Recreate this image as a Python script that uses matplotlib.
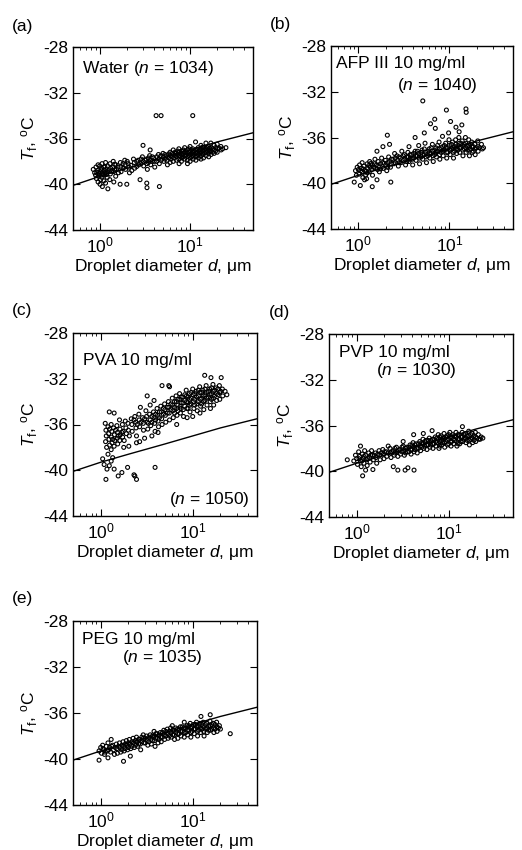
import numpy as np
import matplotlib
matplotlib.use("Agg")
import matplotlib.pyplot as plt

plt.rcParams['font.family'] = ['Liberation Sans', 'DejaVu Sans']
plt.rcParams['mathtext.fontset'] = 'custom'
plt.rcParams['mathtext.rm'] = 'Liberation Sans'
plt.rcParams['mathtext.it'] = 'Liberation Sans:italic'
plt.rcParams['axes.unicode_minus'] = False
plt.rcParams['font.size'] = 12.5

# fitted curve (same in every panel)
line_d = [0.5, 1, 2, 5, 10, 20, 50]
line_T = [-40.1, -39.3, -38.6, -37.7, -37.0, -36.3, -35.5]

yticks = [-28, -32, -36, -40, -44]

# droplet diameter (um), freezing temperature (C) -- sampled by eye from each cloud
water = [
    (0.84, -38.7), (0.87, -39.0), (0.90, -38.5), (0.89, -39.2), (0.91, -39.5),
    (0.95, -38.3), (0.94, -38.8), (0.96, -39.3), (0.95, -39.8),
    (0.99, -38.4), (1.00, -38.9), (0.98, -39.1), (1.01, -39.6), (1.00, -40.0),
    (1.05, -38.2), (1.04, -38.6), (1.06, -39.0), (1.05, -39.4), (1.06, -40.2),
    (1.10, -38.5), (1.11, -38.8), (1.09, -39.2), (1.10, -39.7),
    (1.15, -38.1), (1.16, -38.7), (1.14, -39.0), (1.15, -39.9),
    (1.21, -38.4), (1.19, -38.9), (1.20, -39.4), (1.22, -40.4),
    (1.29, -38.2), (1.31, -38.6), (1.30, -39.1), (1.28, -39.6),
    (1.40, -38.0), (1.38, -38.5), (1.41, -38.9), (1.42, -39.8),
    (1.50, -38.3), (1.52, -38.7), (1.49, -39.3),
    (1.68, -38.1), (1.70, -38.5), (1.71, -38.9), (1.67, -40.0),
    (1.88, -37.9), (1.90, -38.3), (1.92, -38.7),
    (2.05, -38.2), (2.10, -38.5), (2.12, -39.0), (1.98, -40.0),
    (2.35, -37.8), (2.40, -38.1), (2.42, -38.6),
    (2.65, -37.9), (2.70, -38.3), (2.78, -39.6),
    (2.95, -37.6), (3.00, -38.0), (3.05, -38.4), (3.00, -36.6),
    (3.25, -37.8), (3.30, -38.2), (3.35, -38.7), (3.30, -39.9), (3.32, -40.3),
    (3.55, -37.5), (3.60, -37.9), (3.65, -38.3), (3.60, -37.0),
    (3.95, -37.7), (4.00, -38.0), (4.05, -38.5), (4.19, -34.0),
    (4.45, -37.4), (4.50, -37.8), (4.55, -38.2), (4.56, -40.2), (4.76, -34.0),
    (5.00, -37.3), (5.05, -37.6), (5.10, -38.0),
    (5.50, -37.5), (5.55, -37.9), (5.60, -38.3),
    (6.00, -37.2), (6.05, -37.5), (6.10, -37.8), (6.00, -38.1),
    (6.50, -37.0), (6.55, -37.4), (6.60, -37.7), (6.50, -38.0),
    (7.00, -37.3), (7.05, -37.6), (7.10, -37.9),
    (7.50, -36.9), (7.55, -37.2), (7.60, -37.5), (7.50, -37.8), (7.55, -38.2),
    (8.00, -37.1), (8.05, -37.4), (8.10, -37.7), (8.00, -38.0),
    (8.70, -36.8), (8.75, -37.2), (8.80, -37.5), (8.70, -37.8),
    (9.30, -37.0), (9.35, -37.3), (9.40, -37.6), (9.30, -37.9), (9.35, -38.2),
    (10.0, -36.7), (10.1, -37.1), (10.0, -37.4), (10.1, -37.7), (10.0, -38.0),
    (10.7, -34.0), (10.7, -36.9), (10.8, -37.2), (10.7, -37.5), (10.8, -37.8),
    (11.5, -36.3), (11.5, -37.0), (11.6, -37.3), (11.5, -37.6), (11.6, -37.9),
    (12.3, -36.8), (12.4, -37.1), (12.3, -37.4), (12.4, -37.7),
    (13.2, -36.6), (13.3, -36.9), (13.2, -37.2), (13.3, -37.5), (13.2, -37.8),
    (14.0, -36.8), (14.1, -37.1), (14.0, -37.4), (14.1, -37.7),
    (15.0, -36.4), (15.1, -36.9), (15.0, -37.2), (15.1, -37.5),
    (16.0, -36.7), (16.1, -37.0), (16.0, -37.3), (16.1, -37.6),
    (17.0, -36.4), (17.1, -36.8), (17.0, -37.1), (17.1, -37.4),
    (18.5, -36.6), (18.6, -37.0), (18.5, -37.3),
    (20.0, -36.5), (20.1, -36.9), (20.0, -37.2),
    (22.0, -36.7), (22.1, -37.0), (25.0, -36.8),
]
water_core = [
    (0.92, -38.95), (0.97, -39.05), (1.03, -38.75), (1.08, -39.15), (1.13, -38.45),
    (1.18, -39.15), (1.25, -38.75), (1.34, -38.85), (1.45, -38.25), (1.45, -38.75),
    (1.58, -38.5), (1.60, -39.0), (1.80, -38.2), (1.80, -38.6), (2.00, -38.0),
    (2.20, -38.35), (2.25, -38.8), (2.55, -38.0), (2.55, -38.45), (2.85, -37.8),
    (2.85, -38.2), (3.15, -37.9), (3.45, -37.7), (3.45, -38.1), (3.80, -37.6),
    (3.80, -38.0), (4.25, -37.6), (4.25, -38.0), (4.75, -37.5), (4.75, -37.9),
    (5.25, -37.4), (5.25, -37.8), (5.80, -37.35), (5.80, -37.7), (6.30, -37.3),
    (6.30, -37.6), (6.80, -37.2), (6.80, -37.5), (7.30, -37.1), (7.30, -37.4),
    (7.80, -37.3), (7.80, -37.6), (8.40, -37.0), (8.40, -37.3), (8.40, -37.6),
    (9.00, -37.15), (9.00, -37.45), (9.70, -36.9), (9.70, -37.2), (9.70, -37.5),
    (10.4, -37.0), (10.4, -37.3), (10.4, -37.6), (11.1, -37.1), (11.1, -37.4),
    (11.9, -36.95), (11.9, -37.25), (11.9, -37.55), (12.8, -37.0), (12.8, -37.3),
    (13.7, -36.75), (13.7, -37.05), (13.7, -37.35), (14.5, -36.95), (14.5, -37.25),
    (15.5, -36.8), (15.5, -37.1), (16.5, -36.85), (16.5, -37.15), (17.8, -36.9),
    (17.8, -37.2), (19.2, -36.8), (19.2, -37.1), (21.0, -36.85), (23.0, -36.9),
]

afp = [
    (0.90, -39.9), (0.93, -38.9), (0.95, -39.3), (0.97, -38.6),
    (1.00, -38.8), (1.02, -39.2), (1.05, -40.2), (1.03, -38.4),
    (1.08, -38.7), (1.10, -39.0), (1.12, -39.5), (1.10, -38.2),
    (1.15, -38.5), (1.18, -38.9), (1.20, -39.3), (1.17, -39.7),
    (1.25, -38.3), (1.27, -38.7), (1.25, -39.1), (1.23, -39.6),
    (1.33, -38.1), (1.35, -38.6), (1.32, -39.0),
    (1.42, -38.4), (1.40, -38.8), (1.43, -39.3), (1.42, -40.3),
    (1.52, -37.9), (1.50, -38.3), (1.55, -38.7), (1.60, -39.7), (1.60, -37.2),
    (1.65, -38.1), (1.68, -38.5), (1.70, -39.0),
    (1.80, -37.8), (1.85, -38.2), (1.86, -36.8), (1.88, -38.7),
    (1.98, -38.0), (2.00, -38.4), (2.05, -38.9), (2.08, -35.8),
    (2.15, -37.7), (2.20, -38.1), (2.20, -36.6), (2.27, -39.9), (2.25, -38.6),
    (2.40, -37.9), (2.45, -38.3), (2.50, -37.4),
    (2.65, -37.6), (2.70, -38.0), (2.75, -38.5),
    (2.90, -37.8), (2.95, -38.2), (3.00, -37.2),
    (3.20, -37.5), (3.25, -37.9), (3.30, -38.4),
    (3.50, -37.3), (3.55, -37.7), (3.60, -38.1), (3.60, -36.8),
    (3.85, -37.5), (3.90, -37.9), (3.95, -38.4),
    (4.20, -36.0), (4.20, -37.2), (4.25, -37.6), (4.30, -38.0),
    (4.60, -37.4), (4.65, -37.8), (4.70, -38.3), (4.60, -36.7),
    (5.10, -32.8), (5.00, -37.1), (5.05, -37.5), (5.10, -37.9),
    (5.30, -35.6), (5.40, -36.5), (5.50, -37.3), (5.55, -37.7), (5.60, -38.2),
    (6.00, -37.0), (6.05, -37.4), (6.10, -37.8), (6.20, -34.8),
    (6.50, -36.6), (6.55, -37.2), (6.60, -37.6), (6.65, -38.1),
    (6.90, -34.4), (7.00, -35.2), (7.10, -36.9), (7.15, -37.3), (7.20, -37.7),
    (7.70, -36.4), (7.75, -37.0), (7.80, -37.5), (7.85, -37.9),
    (8.40, -35.9), (8.45, -36.8), (8.50, -37.2), (8.55, -37.6),
    (9.10, -36.5), (9.15, -36.9), (9.27, -33.6), (9.30, -37.3), (9.35, -37.8),
    (9.80, -35.6), (9.90, -36.2), (10.0, -36.7), (10.1, -37.1), (10.2, -37.5),
    (10.3, -34.6), (10.8, -36.4), (10.9, -36.9), (11.0, -37.3), (11.1, -37.8),
    (11.8, -35.1), (11.7, -36.2), (11.8, -36.6), (11.9, -37.0), (12.0, -37.4),
    (12.8, -35.5), (12.7, -36.0), (12.8, -36.5), (12.9, -36.9), (13.0, -37.3),
    (13.7, -34.9), (13.8, -36.3), (13.9, -36.7), (14.0, -37.1), (14.1, -37.6),
    (15.2, -33.5), (15.3, -33.8), (15.0, -36.0), (15.1, -36.5), (15.2, -36.9),
    (15.3, -37.3), (16.3, -36.2), (16.4, -36.7), (16.5, -37.1), (16.6, -37.6),
    (17.6, -36.4), (17.7, -36.8), (17.8, -37.3),
    (19.0, -36.6), (19.1, -37.0), (19.2, -37.5),
    (20.5, -36.3), (20.6, -36.8), (20.7, -37.2),
    (22.5, -36.6), (23.0, -37.0), (23.7, -36.9),
]
afp_core = [
    (1.06, -38.9), (1.13, -38.75), (1.22, -38.95), (1.30, -38.45), (1.38, -38.25),
    (1.47, -38.6), (1.58, -38.4), (1.62, -38.8), (1.75, -38.3), (1.75, -38.75),
    (1.92, -38.25), (2.10, -38.2), (2.10, -38.6), (2.30, -37.9), (2.30, -38.3),
    (2.55, -37.8), (2.55, -38.2), (2.80, -37.7), (2.80, -38.2), (3.10, -37.6),
    (3.10, -38.0), (3.40, -37.7), (3.40, -38.1), (3.70, -37.5), (3.70, -37.9),
    (4.05, -37.4), (4.05, -37.8), (4.45, -37.2), (4.45, -37.6), (4.90, -37.3),
    (4.90, -37.7), (5.30, -37.0), (5.30, -37.5), (5.80, -37.2), (5.80, -37.6),
    (6.30, -36.9), (6.30, -37.4), (6.90, -37.1), (6.90, -37.5), (7.40, -36.7),
    (7.40, -37.2), (8.10, -36.9), (8.10, -37.3), (8.80, -36.7), (8.80, -37.1),
    (9.60, -36.9), (9.60, -37.3), (10.5, -36.6), (10.5, -37.0), (11.4, -36.8),
    (11.4, -37.2), (12.4, -36.7), (12.4, -37.1), (13.4, -36.5), (13.4, -36.9),
    (14.6, -36.6), (14.6, -37.0), (15.8, -36.7), (15.8, -37.1), (17.0, -36.6),
    (17.0, -37.0), (18.3, -36.8), (18.3, -37.2), (19.8, -36.9), (21.5, -36.9),
]

pva = [
    (1.12, -35.9), (1.14, -36.5), (1.15, -37.0), (1.13, -37.5), (1.16, -38.0),
    (1.20, -36.2), (1.22, -36.8), (1.24, -34.9), (1.23, -37.3), (1.25, -37.8),
    (1.30, -36.0), (1.32, -36.6), (1.31, -37.1), (1.33, -37.6), (1.30, -38.2),
    (1.40, -35.0), (1.38, -36.3), (1.41, -36.9), (1.42, -37.4), (1.40, -37.9),
    (1.50, -36.1), (1.52, -36.7), (1.51, -37.2), (1.53, -37.7),
    (1.60, -35.6), (1.62, -36.4), (1.63, -36.9), (1.61, -37.4),
    (1.72, -36.0), (1.75, -36.6), (1.73, -37.1), (1.78, -38.0),
    (1.85, -35.7), (1.88, -36.3), (1.90, -36.8),
    (1.98, -35.9), (2.00, -36.5), (2.05, -37.0), (2.02, -37.9),
    (2.15, -35.5), (2.18, -36.0), (2.20, -36.6),
    (2.35, -35.3), (2.40, -35.8), (2.42, -36.3), (2.45, -37.0), (2.45, -37.6),
    (2.60, -35.1), (2.62, -35.6), (2.65, -36.2), (2.70, -34.5), (2.65, -37.5),
    (2.85, -35.4), (2.90, -35.9), (2.92, -36.5), (3.00, -37.2),
    (3.10, -34.8), (3.15, -35.3), (3.20, -35.8), (3.20, -33.5), (3.25, -36.4),
    (3.40, -35.1), (3.45, -35.6), (3.50, -36.1), (3.45, -34.3), (3.60, -37.0),
    (3.75, -34.9), (3.80, -35.4), (3.80, -33.9), (3.85, -35.9), (3.90, -36.6),
    (4.10, -34.6), (4.15, -35.2), (4.20, -35.7), (4.25, -36.2), (4.20, -36.7),
    (4.50, -34.4), (4.55, -34.9), (4.64, -32.6), (4.60, -35.5), (4.65, -36.0),
    (4.95, -34.2), (5.00, -34.7), (5.05, -35.2), (5.10, -35.8),
    (5.50, -32.6), (5.60, -32.7), (5.45, -34.0), (5.50, -34.5), (5.55, -35.0),
    (5.60, -35.6), (6.00, -33.7), (6.05, -34.3), (6.10, -34.8), (6.15, -35.4),
    (6.60, -33.5), (6.65, -34.0), (6.70, -34.6), (6.75, -35.2), (6.70, -36.0),
    (7.20, -33.3), (7.25, -33.8), (7.30, -34.4), (7.35, -35.0),
    (7.80, -33.6), (7.85, -34.1), (7.90, -34.7), (7.95, -35.3),
    (8.50, -33.0), (8.55, -33.5), (8.60, -34.0), (8.65, -34.6), (8.70, -35.4),
    (9.20, -33.3), (9.25, -33.8), (9.30, -34.3), (9.35, -34.9),
    (10.0, -32.9), (10.1, -33.4), (10.2, -34.0), (10.3, -34.6), (10.0, -35.3),
    (10.9, -33.1), (11.0, -33.6), (11.1, -34.2), (11.2, -34.8),
    (11.9, -32.7), (12.0, -33.2), (12.1, -33.8), (12.2, -34.4), (12.0, -35.0),
    (12.9, -33.0), (13.0, -33.5), (13.1, -34.0), (13.2, -34.7),
    (13.5, -31.7), (14.0, -32.6), (14.1, -33.2), (14.2, -33.7), (14.3, -34.3),
    (15.3, -32.9), (15.4, -33.4), (15.5, -34.0), (15.6, -34.6), (15.8, -31.9),
    (16.6, -32.5), (16.7, -33.1), (16.8, -33.7), (16.9, -34.3),
    (18.0, -32.8), (18.1, -33.3), (18.2, -33.9),
    (19.5, -32.6), (19.6, -33.2), (19.7, -33.8),
    (20.4, -31.9), (21.0, -32.9), (21.2, -33.5),
    (22.5, -33.1), (23.5, -33.4),
    (1.09, -39.5), (1.17, -39.9), (1.24, -39.6), (1.40, -39.9), (1.30, -39.2),
    (1.96, -39.75), (1.70, -40.2), (1.14, -40.8), (2.35, -40.5), (2.45, -40.8),
    (2.30, -40.4), (3.90, -39.75), (1.20, -38.6), (1.35, -38.9), (1.55, -40.5),
    (1.05, -39.0),
]
pva_core = [
    (2.30, -35.6), (2.50, -36.0), (2.75, -35.8), (3.00, -35.5), (3.30, -35.9),
    (3.60, -35.3), (3.60, -35.8), (3.95, -35.1), (3.95, -35.6), (4.35, -34.9),
    (4.35, -35.4), (4.80, -34.6), (4.80, -35.1), (5.30, -34.5), (5.30, -35.0),
    (5.80, -34.2), (5.80, -34.7), (6.35, -34.0), (6.35, -34.5), (6.35, -35.0),
    (6.90, -33.8), (6.90, -34.3), (6.90, -34.8), (7.50, -33.6), (7.50, -34.1),
    (7.50, -34.6), (8.20, -33.4), (8.20, -33.9), (8.20, -34.4), (8.90, -33.6),
    (8.90, -34.1), (8.90, -34.6), (9.60, -33.2), (9.60, -33.7), (9.60, -34.2),
    (10.5, -33.3), (10.5, -33.8), (10.5, -34.3), (11.5, -33.0), (11.5, -33.5),
    (11.5, -34.0), (12.5, -33.2), (12.5, -33.7), (12.5, -34.2), (13.6, -32.9),
    (13.6, -33.4), (13.6, -33.9), (14.8, -33.1), (14.8, -33.6), (16.0, -32.8),
    (16.0, -33.3), (16.0, -33.8), (17.3, -33.0), (17.3, -33.5), (18.8, -32.9),
    (18.8, -33.4), (20.2, -33.1), (1.45, -36.5), (1.25, -36.4), (1.35, -37.3),
    (1.55, -37.0), (1.70, -36.7), (1.80, -37.4),
]

pvp = [
    (0.79, -39.0), (0.93, -39.1), (0.97, -38.6), (1.00, -38.9), (1.02, -39.4),
    (1.05, -38.3), (1.08, -38.7), (1.10, -37.8), (1.10, -39.1), (1.12, -39.6),
    (1.15, -38.5), (1.16, -40.4), (1.18, -38.9), (1.20, -39.3), (1.22, -38.2),
    (1.25, -38.6), (1.25, -39.9), (1.28, -39.0), (1.30, -39.5),
    (1.35, -38.4), (1.38, -38.8), (1.40, -39.2),
    (1.45, -38.2), (1.48, -38.6), (1.50, -39.85), (1.52, -39.0),
    (1.60, -38.4), (1.62, -38.8), (1.65, -39.3),
    (1.75, -38.2), (1.78, -38.6), (1.80, -39.0),
    (1.92, -38.1), (1.95, -38.5), (1.98, -38.9),
    (2.10, -38.3), (2.12, -38.7), (2.20, -37.8),
    (2.30, -38.0), (2.33, -38.4), (2.36, -38.8),
    (2.50, -38.2), (2.50, -39.6), (2.55, -38.6),
    (2.70, -37.9), (2.75, -38.3), (2.80, -39.9), (2.80, -38.7),
    (2.95, -38.1), (3.00, -38.5),
    (3.20, -37.4), (3.20, -37.8), (3.25, -38.2), (3.30, -38.6), (3.36, -39.9),
    (3.50, -37.9), (3.55, -38.3), (3.60, -39.7),
    (3.80, -37.7), (3.85, -38.1), (3.90, -38.5),
    (4.10, -37.5), (4.15, -37.9), (4.16, -36.8), (4.20, -38.3), (4.20, -39.9),
    (4.45, -37.6), (4.50, -38.0), (4.55, -38.4),
    (4.85, -37.4), (4.90, -37.8), (4.95, -38.2),
    (5.30, -36.7), (5.25, -37.2), (5.30, -37.6), (5.35, -38.0),
    (5.70, -37.3), (5.75, -37.7), (5.80, -38.1),
    (6.15, -37.1), (6.20, -37.5), (6.25, -37.9),
    (6.60, -36.45), (6.65, -37.2), (6.70, -37.6), (6.75, -38.0),
    (7.15, -37.0), (7.20, -37.4), (7.25, -37.8),
    (7.70, -36.8), (7.75, -37.2), (7.80, -37.6), (7.85, -38.0),
    (8.30, -36.9), (8.35, -37.3), (8.40, -37.7),
    (8.90, -36.7), (8.95, -37.1), (9.00, -37.5), (9.05, -37.9),
    (9.60, -36.9), (9.65, -37.3), (9.70, -37.7),
    (10.3, -36.6), (10.4, -37.0), (10.5, -37.4), (10.6, -37.8),
    (11.1, -36.8), (11.2, -37.2), (11.3, -37.6),
    (12.0, -36.6), (12.1, -37.0), (12.2, -37.4), (12.3, -37.8),
    (13.0, -36.8), (13.1, -37.2), (13.2, -37.6),
    (14.1, -36.1), (14.0, -36.6), (14.1, -37.0), (14.2, -37.4),
    (15.2, -36.7), (15.3, -37.1), (15.4, -37.5),
    (16.5, -36.5), (16.6, -36.9), (16.7, -37.3), (16.8, -37.7),
    (18.0, -36.7), (18.1, -37.1), (18.2, -37.5),
    (19.5, -36.6), (19.6, -37.0), (19.7, -37.4),
    (21.0, -36.8), (21.2, -37.2), (22.5, -37.0), (23.5, -37.1),
]
pvp_core = [
    (1.06, -38.9), (1.14, -39.1), (1.20, -38.7), (1.32, -38.9), (1.42, -38.6),
    (1.55, -38.6), (1.70, -38.5), (1.85, -38.4), (2.00, -38.3), (2.20, -38.4),
    (2.40, -38.3), (2.60, -38.0), (2.60, -38.4), (2.85, -38.2), (3.10, -37.9),
    (3.10, -38.3), (3.40, -38.0), (3.40, -38.4), (3.70, -37.9), (3.70, -38.3),
    (4.00, -37.7), (4.00, -38.1), (4.30, -37.7), (4.30, -38.1), (4.70, -37.6),
    (4.70, -38.0), (5.10, -37.5), (5.10, -37.9), (5.50, -37.4), (5.50, -37.8),
    (5.95, -37.3), (5.95, -37.7), (6.40, -37.3), (6.40, -37.7), (6.90, -37.2),
    (6.90, -37.6), (7.45, -37.1), (7.45, -37.5), (8.00, -37.0), (8.00, -37.4),
    (8.00, -37.8), (8.60, -37.1), (8.60, -37.5), (9.30, -37.0), (9.30, -37.4),
    (10.0, -36.8), (10.0, -37.2), (10.0, -37.6), (10.8, -37.0), (10.8, -37.4),
    (11.6, -36.9), (11.6, -37.3), (12.6, -36.8), (12.6, -37.2), (12.6, -37.6),
    (13.6, -37.0), (13.6, -37.4), (14.7, -36.8), (14.7, -37.2), (15.9, -36.9),
    (15.9, -37.3), (17.3, -36.8), (17.3, -37.2), (18.8, -36.9), (18.8, -37.3),
    (20.3, -37.1), (22.0, -37.2),
]

peg = [
    (0.96, -39.3), (0.96, -40.1), (1.00, -39.0), (1.02, -39.5),
    (1.05, -38.8), (1.08, -39.2), (1.10, -39.6),
    (1.15, -38.9), (1.18, -39.3), (1.20, -39.9), (1.20, -38.6),
    (1.25, -39.0), (1.28, -39.4), (1.30, -38.3),
    (1.35, -38.8), (1.38, -39.2), (1.41, -39.6),
    (1.48, -38.7), (1.50, -39.1), (1.52, -39.5),
    (1.60, -38.6), (1.63, -39.0), (1.65, -39.4),
    (1.75, -38.5), (1.77, -40.2), (1.78, -38.9), (1.80, -39.3),
    (1.90, -38.4), (1.93, -38.8), (1.96, -39.2),
    (2.05, -38.3), (2.08, -38.7), (2.10, -39.75), (2.12, -39.1),
    (2.25, -38.2), (2.28, -38.6), (2.32, -39.0),
    (2.45, -38.1), (2.48, -38.5), (2.52, -38.9),
    (2.65, -38.3), (2.70, -38.7), (2.72, -39.2),
    (2.90, -37.9), (2.92, -38.2), (2.95, -38.6),
    (3.15, -38.0), (3.20, -38.4), (3.25, -38.8),
    (3.45, -37.9), (3.50, -38.3), (3.55, -38.7),
    (3.80, -37.6), (3.80, -38.0), (3.85, -38.4), (3.90, -38.9),
    (4.10, -37.8), (4.15, -38.2), (4.20, -38.6),
    (4.45, -37.7), (4.50, -38.1), (4.55, -38.5),
    (4.85, -37.5), (4.90, -37.9), (4.95, -38.3),
    (5.30, -37.4), (5.35, -37.8), (5.40, -38.2),
    (5.75, -37.3), (5.80, -37.7), (5.85, -38.1),
    (6.00, -37.1), (6.25, -37.5), (6.30, -37.9), (6.35, -38.3),
    (6.80, -37.4), (6.85, -37.8), (6.90, -38.2),
    (7.35, -37.2), (7.40, -37.6), (7.45, -38.0),
    (8.10, -36.8), (8.00, -37.3), (8.05, -37.7), (8.10, -38.1),
    (8.70, -37.1), (8.75, -37.5), (8.80, -37.9),
    (9.40, -36.9), (9.45, -37.3), (9.50, -37.7), (9.55, -38.1),
    (10.2, -37.0), (10.3, -37.4), (10.4, -37.8),
    (11.0, -36.8), (11.1, -37.2), (11.2, -37.6), (11.3, -38.0),
    (12.0, -36.9), (12.1, -37.3), (12.2, -37.7),
    (12.3, -36.3), (13.0, -36.8), (13.1, -37.2), (13.2, -37.6), (13.3, -38.0),
    (14.2, -36.9), (14.3, -37.3), (14.4, -37.7),
    (15.5, -36.15), (15.4, -36.7), (15.5, -37.1), (15.6, -37.5),
    (16.8, -36.9), (16.9, -37.3), (17.0, -37.7),
    (18.2, -36.8), (18.3, -37.2), (18.4, -37.6),
    (19.5, -37.1), (20.0, -37.4), (25.6, -37.8),
]
peg_core = [
    (1.06, -39.1), (1.12, -39.4), (1.22, -39.2), (1.32, -38.9), (1.44, -39.0),
    (1.56, -38.9), (1.70, -38.8), (1.70, -39.2), (1.85, -38.7), (1.85, -39.1),
    (2.00, -38.6), (2.00, -39.0), (2.18, -38.5), (2.18, -38.9), (2.38, -38.4),
    (2.38, -38.8), (2.58, -38.3), (2.58, -38.7), (2.80, -38.1), (2.80, -38.5),
    (3.05, -38.2), (3.05, -38.6), (3.35, -38.1), (3.35, -38.5), (3.65, -38.0),
    (3.65, -38.4), (3.98, -37.8), (3.98, -38.2), (4.30, -37.9), (4.30, -38.3),
    (4.70, -37.7), (4.70, -38.1), (5.10, -37.6), (5.10, -38.0), (5.55, -37.6),
    (5.55, -38.0), (6.05, -37.5), (6.05, -37.9), (6.55, -37.3), (6.55, -37.7),
    (7.10, -37.4), (7.10, -37.8), (7.70, -37.2), (7.70, -37.6), (8.40, -37.3),
    (8.40, -37.7), (9.10, -37.1), (9.10, -37.5), (9.80, -37.2), (9.80, -37.6),
    (10.7, -37.0), (10.7, -37.4), (11.6, -37.1), (11.6, -37.5), (12.6, -37.0),
    (12.6, -37.4), (13.7, -37.0), (13.7, -37.4), (14.9, -37.1), (14.9, -37.5),
    (16.1, -37.0), (16.1, -37.4), (17.5, -37.0), (17.5, -37.4), (19.0, -37.3),
]

fig = plt.figure(figsize=(5.22, 8.5), dpi=100)
W, H = 522.0, 850.0

# (label, points, axes box in pixels: left, top, width, height, panel-letter position)
panels = [
    ('(a)', water + water_core, (73, 47, 180, 183), (12, 27)),
    ('(b)', afp + afp_core, (331, 46, 182, 183), (270, 25)),
    ('(c)', pva + pva_core, (73, 333, 184, 183), (12, 310)),
    ('(d)', pvp + pvp_core, (329, 334, 184, 183), (269, 312)),
    ('(e)', peg + peg_core, (73, 621, 184, 184), (12, 599)),
]
texts = {
    '(a)': [('Water ($n$ = 1034)', 0.05, 0.88, 'left')],
    '(b)': [('AFP III 10 mg/ml', 0.03, 0.905, 'left'), ('($n$ = 1040)', 0.36, 0.785, 'left')],
    '(c)': [('PVA 10 mg/ml', 0.055, 0.85, 'left'), ('($n$ = 1050)', 0.96, 0.09, 'right')],
    '(d)': [('PVP 10 mg/ml', 0.055, 0.90, 'left'), ('($n$ = 1030)', 0.255, 0.80, 'left')],
    '(e)': [('PEG 10 mg/ml', 0.05, 0.90, 'left'), ('($n$ = 1035)', 0.265, 0.80, 'left')],
}

for lab, pts, (l, t, w, h), (lx, ly) in panels:
    ax = fig.add_axes([l / W, 1 - (t + h) / H, w / W, h / H])
    arr = np.array(pts)
    ax.scatter(arr[:, 0], arr[:, 1], s=8, facecolors='none', edgecolors='black',
               linewidths=0.8, zorder=2)
    ax.plot(line_d, line_T, color='black', lw=1.0, zorder=3)
    ax.set_xscale('log')
    ax.set_xlim(0.5, 50)
    ax.set_ylim(-44, -28)
    ax.set_yticks(yticks)
    ax.tick_params(which='both', direction='in', top=True, right=True, labelsize=12.5)
    ax.tick_params(which='major', length=5, width=0.8)
    ax.tick_params(which='minor', length=2.5, width=0.6)
    ax.tick_params(axis='x', pad=4)
    for sp in ax.spines.values():
        sp.set_linewidth(1.0)
    ax.set_xlabel('Droplet diameter $d$, \u03bcm', labelpad=1)
    ax.set_ylabel('$T_\\mathrm{f}$, $^\\mathrm{o}$C', labelpad=2)
    for s, x, y, ha in texts[lab]:
        ax.text(x, y, s, transform=ax.transAxes, ha=ha, va='center', fontsize=12.5)
    fig.text(lx / W, 1 - ly / H, lab, ha='left', va='center', fontsize=12.5)

fig.savefig('out.png', dpi=100)
